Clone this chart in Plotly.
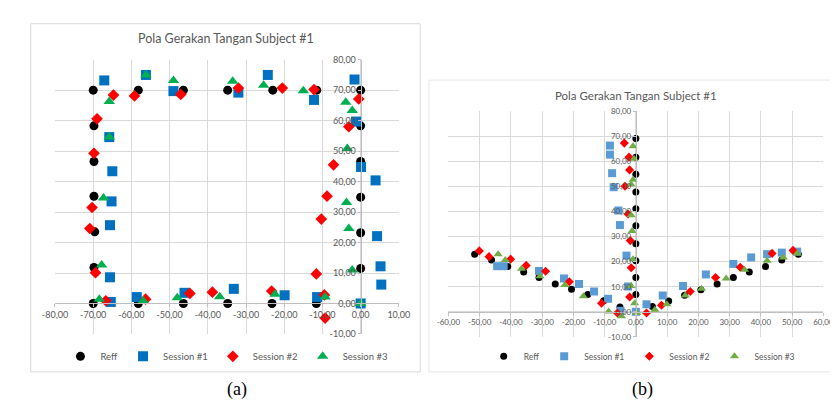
import plotly.graph_objects as go

# ---------------- Data: chart (a) ----------------
a_reff_x = [-70, -58.2, -46.4, -34.8, -23, -11.5, 0, 0, 0, 0, 0, 0, 0,
            -11.6, -23.2, -34.8, -46.4, -58.2, -70, -69.8, -69.6, -69.8, -69.8, -69.8]
a_reff_y = [70, 70, 70, 70, 70, 70, 70, 58.3, 46.6, 34.9, 23.2, 11.5, 0,
            0, 0, 0, 0, 0, 0, 11.8, 23.5, 35.2, 46.6, 58.3]

a_s1_x = [-67.1, -56.2, -49, -32, -24.3, -12.2, -1.6, -1.2, 0.1, 3.9, 4.3, 5.2, 5.4, 0,
          -11.4, -19.9, -33.2, -46.1, -58.6, -65.4, -65.6, -65.6, -65.2, -65, -65.8]
a_s1_y = [73.2, 75, 69.7, 69.2, 75, 66.8, 73.5, 59.7, 44.8, 40.4, 22.1, 12.2, 6.2, 0,
          2.1, 2.7, 4.8, 3.5, 2.1, 0.5, 8.6, 25.7, 33.5, 43.4, 54.6]

a_s2_x = [-64.7, -59.2, -47.1, -32, -20.5, -12.2, -0.5, -3.1, -7.1, -8.8, -10.3, -11.6, -9.3,
          -9.5, -23.3, -38.8, -44.7, -56.3, -66.7, -69.4, -70.9, -70.3, -69.8, -69]
a_s2_y = [68.4, 68.1, 68.6, 70.7, 70.7, 70.2, 67.1, 58, 45.5, 35.2, 27.7, 9.7, -4.8,
          2.8, 4.1, 3.7, 3.3, 1.4, 0.9, 10.1, 24.6, 31.5, 49.3, 60.6]

a_s3_x = [-65.8, -56.2, -49, -33.5, -25.4, -15, -3.9, -2.2, -3.5, -3.7, -3.1, -2.2, 0,
          -9.3, -22.4, -36.9, -48, -56.9, -68.4, -67.8, -67.3, -65.8]
a_s3_y = [66.3, 75, 73.2, 72.9, 71.6, 69.8, 66, 63.3, 50.9, 33.1, 24.6, 11, 0,
          2.1, 3, 2.2, 1.9, 0.9, 1.4, 12.6, 34.6, 54.6]

# ---------------- Data: chart (b) ----------------
b_reff_x = [-51.6, -46.2, -41, -35.9, -31, -25.8, -20.6, -15.4, -10.3, -5.1,
            0, 0, 0, 0, 0, 0, 0, 0, 0, 0,
            5.3, 10.5, 15.6, 20.8, 26, 31.2, 36.3, 41.5, 46.7, 52]
b_reff_y = [23, 20.7, 18.1, 15.9, 13.7, 11.1, 9, 6.9, 4.4, 1.9,
            6.9, 13.7, 20.4, 27.1, 34.3, 41.1, 47.8, 54.9, 61.7, 69.1,
            2.1, 4.3, 6.6, 8.8, 11.1, 13.7, 15.9, 18.1, 20.7, 23]

b_s1_x = [-44.4, -42.3, -31, -23, -18.2, -13.4, -8.9, -4.9, 0, 3.4, 8.6, 15.1, 22.4,
          31.2, 36.9, 42, 46.7, 51.6,
          -2.5, -3, -5.1, -5.6, -7.1, -7.6, -8.3, -8.3]
b_s1_y = [18.2, 18.2, 16.3, 13.3, 11.1, 8.1, 5.2, 0.4, 0, 3, 6.5, 10.3, 14.9,
          19.1, 21.7, 23, 23.6, 24,
          10.1, 22.4, 34.6, 40.4, 49.7, 55.3, 62.7, 66.3]

b_s2_x = [-50.1, -47, -40.1, -35.1, -28.9, -21.3, -11, -5.9, 3.4, 8.2, 17.4, 25.5,
          33.4, 43.6, 50.3,
          -2, -1.5, -1.8, -2.5, -3.5, -2, -2.2, -3.7]
b_s2_y = [24.3, 22, 21, 18.5, 16.2, 12, 3.4, -0.5, -0.5, 2.6, 8.1, 13.7,
          17.8, 23.3, 24.5,
          5.9, 17.6, 28.4, 39, 50.1, 56.6, 61.7, 67.3]

b_s3_x = [-44.1, -41.8, -36.6, -30.7, -22.7, -16.8, -8.7, -4.6, 0.3, 6.1, 9.9, 15.8,
          21, 28.9, 34.8, 42, 47.2, 51.6,
          -0.4, -1.5, -0.9, -1.2, -1.5, -1.5, -0.9, -0.6, -0.9]
b_s3_y = [23, 20.7, 17.2, 14.2, 10.7, 6.2, 0.1, -1.8, -0.5, 0.8, 3, 6.5,
          9.2, 13.3, 16.8, 20.4, 21.7, 23.3,
          3.4, 10.3, 21, 32.2, 38.5, 50.8, 52.7, 61.1, 66]

series_names = ["Reff", "Session #1", "Session #2", "Session #3"]

a_xticks = [-80, -70, -60, -50, -40, -30, -20, -10, 0, 10]
a_xtext = ["-80,00", "-70,00", "-60,00", "-50,00", "-40,00", "-30,00", "-20,00", "-10,00", "0,00", "10,00"]
a_yticks = [-10, 0, 10, 20, 30, 40, 50, 60, 70, 80]
a_ytext = ["-10,00", "0,00", "10,00", "20,00", "30,00", "40,00", "50,00", "60,00", "70,00", "80,00"]

b_xticks = [-60, -50, -40, -30, -20, -10, 0, 10, 20, 30, 40, 50, 60]
b_xtext = ["-60,00", "-50,00", "-40,00", "-30,00", "-20,00", "-10,00", "0,00",
           "10,00", "20,00", "30,00", "40,00", "50,00", "60,00"]
b_yticks = a_yticks
b_ytext = a_ytext

title_text = "Pola Gerakan Tangan Subject #1"

# ---------------- Layout constants ----------------
W, H = 838, 400
FONT = "Lato, 'Open Sans', sans-serif"
GRAY = "#595959"
GRID = "#D9D9D9"


def px_x(p):
    return p / W


def px_y(p):
    return 1 - p / H


a_xr, a_yr = [-80, 10], [-10, 80]
b_xr, b_yr = [-60, 60], [-10, 80]
a_xdom = [px_x(35), px_x(389)]
a_ydom = [px_y(329), px_y(47)]
b_xdom = [px_x(440), px_x(826)]
b_ydom = [px_y(332), px_y(100)]


def pos(dom, rng):
    return dom[0] + (0 - rng[0]) / (rng[1] - rng[0]) * (dom[1] - dom[0])


fig = go.Figure()

a_colors = ["#000000", "#0070C0", "#FF0000", "#00B050"]
b_colors = ["#000000", "#5B9BD5", "#FF0000", "#70AD47"]
symbols = ["circle", "square", "diamond", "triangle-up"]
a_sizes = [9, 10, 9, 10]
b_sizes = [7, 8, 7, 8]

a_data = [(a_reff_x, a_reff_y), (a_s1_x, a_s1_y), (a_s2_x, a_s2_y), (a_s3_x, a_s3_y)]
b_data = [(b_reff_x, b_reff_y), (b_s1_x, b_s1_y), (b_s2_x, b_s2_y), (b_s3_x, b_s3_y)]

for i, (xs, ys) in enumerate(a_data):
    fig.add_trace(go.Scatter(x=xs, y=ys, mode="markers", name=series_names[i],
                             marker=dict(color=a_colors[i], symbol=symbols[i], size=a_sizes[i],
                                         line=dict(width=0)),
                             xaxis="x", yaxis="y", legend="legend", cliponaxis=False))
for i, (xs, ys) in enumerate(b_data):
    fig.add_trace(go.Scatter(x=xs, y=ys, mode="markers", name=series_names[i],
                             marker=dict(color=b_colors[i], symbol=symbols[i], size=b_sizes[i],
                                         line=dict(width=0)),
                             xaxis="x2", yaxis="y2", legend="legend2", cliponaxis=False))

axis_common = dict(showgrid=True, gridcolor=GRID, gridwidth=1, zeroline=False,
                   showline=True, linecolor="#BFBFBF", linewidth=1,
                   ticks="outside", ticklen=3, tickcolor="#BFBFBF",
                   tickmode="array", fixedrange=True)

fig.update_layout(
    width=W, height=H, margin=dict(l=0, r=0, t=0, b=0),
    paper_bgcolor="white", plot_bgcolor="white",
    xaxis=dict(domain=a_xdom, range=a_xr, anchor="free", position=pos(a_ydom, a_yr),
               tickvals=a_xticks, ticktext=a_xtext,
               tickfont=dict(family=FONT, size=9, color=GRAY), **axis_common),
    yaxis=dict(domain=a_ydom, range=a_yr, anchor="free", position=pos(a_xdom, a_xr),
               tickvals=a_yticks, ticktext=a_ytext,
               tickfont=dict(family=FONT, size=9, color=GRAY), **axis_common),
    xaxis2=dict(domain=b_xdom, range=b_xr, anchor="free", position=pos(b_ydom, b_yr),
                tickvals=b_xticks, ticktext=b_xtext,
                tickfont=dict(family=FONT, size=8, color=GRAY), **axis_common),
    yaxis2=dict(domain=b_ydom, range=b_yr, anchor="free", position=pos(b_xdom, b_xr),
                tickvals=b_yticks, ticktext=b_ytext,
                tickfont=dict(family=FONT, size=8, color=GRAY), **axis_common),
    legend=dict(orientation="h", x=px_x(212), y=px_y(352), xanchor="center", yanchor="middle",
                font=dict(family=FONT, size=9.5, color=GRAY), bgcolor="rgba(0,0,0,0)",
                itemsizing="trace", itemwidth=30, tracegroupgap=0),
    legend2=dict(orientation="h", x=px_x(639), y=px_y(352), xanchor="center", yanchor="middle",
                 font=dict(family=FONT, size=8.5, color=GRAY), bgcolor="rgba(0,0,0,0)",
                 itemsizing="trace", itemwidth=30, tracegroupgap=0),
    shapes=[
        dict(type="rect", xref="paper", yref="paper", x0=px_x(10), x1=px_x(411),
             y0=px_y(368), y1=px_y(10), line=dict(color="#D9D9D9", width=1), layer="below"),
        dict(type="rect", xref="paper", yref="paper", x0=px_x(420), x1=px_x(845),
             y0=px_y(368), y1=px_y(68), line=dict(color="#E6E6E6", width=1), layer="below"),
    ],
    annotations=[
        dict(text=title_text, xref="paper", yref="paper", x=px_x(211), y=px_y(25),
             xanchor="center", yanchor="middle",
             showarrow=False, font=dict(family=FONT, size=12.5, color=GRAY)),
        dict(text=title_text, xref="paper", yref="paper", x=px_x(633), y=px_y(84),
             xanchor="center", yanchor="middle",
             showarrow=False, font=dict(family=FONT, size=11.5, color=GRAY)),
        dict(text="(a)", xref="paper", yref="paper", x=px_x(222), y=px_y(386),
             xanchor="center", yanchor="middle",
             showarrow=False, font=dict(family="Liberation Serif, serif", size=18, color="#000000")),
        dict(text="(b)", xref="paper", yref="paper", x=px_x(640), y=px_y(386),
             xanchor="center", yanchor="middle",
             showarrow=False, font=dict(family="Liberation Serif, serif", size=18, color="#000000")),
    ],
)

fig.write_html("out.html")
